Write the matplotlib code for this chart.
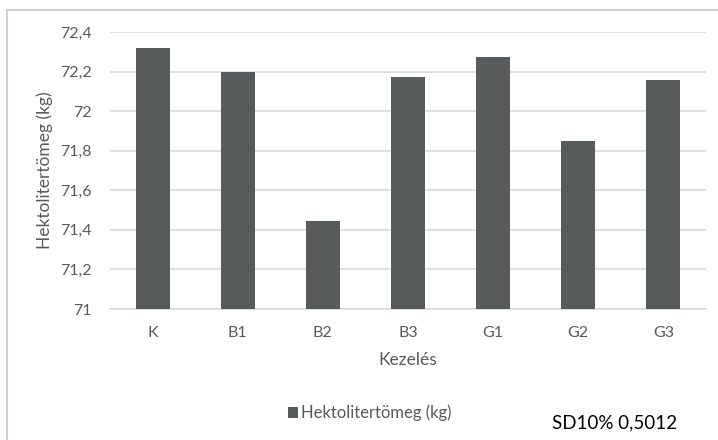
import matplotlib
matplotlib.use("Agg")
import matplotlib.pyplot as plt
from matplotlib.ticker import FuncFormatter, MultipleLocator
from matplotlib.lines import Line2D

# Treatments and their hectolitre weights
kezelesek = ["K", "B1", "B2", "B3", "G1", "G2", "G3"]
hektoliter = [72.32, 72.20, 71.445, 72.175, 72.275, 71.85, 72.157]
sd_label = "SD10% 0,5012"

bar_color = "#575B5B"
text_gray = "#595959"
grid_gray = "#D9D9D9"

plt.rcParams["font.family"] = ["Lato", "DejaVu Sans"]

W, H = 718, 440
fig = plt.figure(figsize=(W / 100, H / 100), dpi=100)
ax = fig.add_axes([110 / W, 1 - 309 / H, (706 - 110) / W, (309 - 32) / H])

x = range(len(kezelesek))
bars = ax.bar(x, [v - 71 for v in hektoliter], bottom=71, width=0.4,
              color=bar_color, label="Hektolitertömeg (kg)", zorder=3)

ax.set_xlim(-0.5, len(kezelesek) - 0.5)
ax.set_ylim(71, 72.4)
ax.yaxis.set_major_locator(MultipleLocator(0.2))
ax.yaxis.set_major_formatter(FuncFormatter(lambda v, p: f"{round(v, 1):g}".replace(".", ",")))
ax.set_xticks(list(x))
ax.set_xticklabels(kezelesek)

ax.grid(axis="y", color=grid_gray, linewidth=1.2, zorder=0)
for s in ["top", "right", "left"]:
    ax.spines[s].set_visible(False)
ax.spines["bottom"].set_color(grid_gray)
ax.spines["bottom"].set_linewidth(1.2)
ax.tick_params(axis="both", length=0, labelsize=11.5, labelcolor=text_gray)
ax.tick_params(axis="x", pad=12)
ax.tick_params(axis="y", pad=13)

ax.set_xlabel("Kezelés", fontsize=12.5, color=text_gray, labelpad=9)
ax.set_ylabel("Hektolitertömeg (kg)", fontsize=12.5, color=text_gray, labelpad=5)

fig.legend(handles=[bars], loc="center", bbox_to_anchor=(370 / W, 1 - 413 / H),
           frameon=False, fontsize=12, labelcolor=text_gray,
           handlelength=0.6, handleheight=0.6, handletextpad=0.2)

fig.text(552 / W, 1 - 423 / H, sd_label, fontsize=13.5, color="black",
         ha="left", va="center")

# chart border (top and left edges)
border = "#D0D0D0"
fig.add_artist(Line2D([7 / W, 1.0], [1 - 10 / H, 1 - 10 / H], color=border,
                      lw=1.5, transform=fig.transFigure))
fig.add_artist(Line2D([7 / W, 7 / W], [1 - 10 / H, 0.0], color=border,
                      lw=1.5, transform=fig.transFigure))

fig.savefig("out.png", dpi=100)
